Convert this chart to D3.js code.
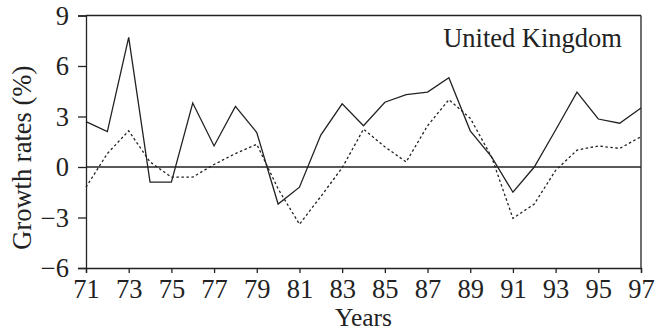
<!DOCTYPE html>
<html>
<head>
<meta charset="utf-8">
<script src="https://cdn.jsdelivr.net/npm/d3@7"></script>
<style>
  body { margin: 0; background: #fff; }
  text { font-family: "Liberation Serif", "DejaVu Serif", serif; fill: #222; }
</style>
</head>
<body>
<svg width="658" height="331"></svg>
<script>
// Data
const years = [71, 72, 73, 74, 75, 76, 77, 78, 79, 80, 81, 82, 83, 84, 85, 86, 87, 88, 89, 90, 91, 92, 93, 94, 95, 96, 97];
const solidSeries = [2.7, 2.1, 7.7, -0.9, -0.9, 3.8, 1.25, 3.6, 2.05, -2.2, -1.2, 1.9, 3.75, 2.45, 3.85, 4.3, 4.45, 5.3, 2.15, 0.6, -1.5, 0.0, 2.2, 4.45, 2.85, 2.6, 3.5];
const dashedSeries = [-1.2, 0.8, 2.15, 0.3, -0.6, -0.6, 0.15, 0.8, 1.35, -1.3, -3.4, -1.75, -0.05, 2.25, 1.2, 0.3, 2.45, 4.0, 2.9, 0.6, -3.05, -2.2, -0.2, 1.0, 1.25, 1.1, 1.8];
const xTicks = [71, 73, 75, 77, 79, 81, 83, 85, 87, 89, 91, 93, 95, 97];
const yTicks = [-6, -3, 0, 3, 6, 9];

const svg = d3.select("svg");
const ink = "#222";
const fontSize = 26.5;

const plotLeft = 86, plotRight = 641, plotTop = 15.5, plotBottom = 268;

const xScale = d3.scaleLinear().domain([71, 97]).range([plotLeft, plotRight]);
const yScale = d3.scaleLinear().domain([-6, 9]).range([plotBottom, plotTop]);

// Axes
const xAxis = svg.append("g")
  .attr("transform", `translate(0,${plotBottom})`)
  .call(d3.axisBottom(xScale).tickValues(xTicks).tickFormat(d3.format("d")).tickSizeOuter(0).tickSize(5).tickPadding(6));

const yAxis = svg.append("g")
  .attr("transform", `translate(${plotLeft},0)`)
  .call(d3.axisLeft(yScale).tickValues(yTicks).tickFormat(d => d < 0 ? "\u2212" + Math.abs(d) : d).tickSizeOuter(0).tickSize(8).tickPadding(9));

[xAxis, yAxis].forEach(g => {
  g.selectAll("path, line").attr("stroke", ink).attr("stroke-width", 1.3);
  g.selectAll("text").attr("font-size", fontSize).attr("fill", ink);
});
yAxis.selectAll("text").attr("dy", "0.33em");

// Box: top and right edges
svg.append("line").attr("x1", plotLeft).attr("x2", plotRight).attr("y1", plotTop).attr("y2", plotTop)
  .attr("stroke", ink).attr("stroke-width", 1.3);
svg.append("line").attr("x1", plotRight).attr("x2", plotRight).attr("y1", plotTop).attr("y2", plotBottom)
  .attr("stroke", ink).attr("stroke-width", 1.3);

// Zero line
svg.append("line").attr("x1", plotLeft).attr("x2", plotRight).attr("y1", yScale(0)).attr("y2", yScale(0))
  .attr("stroke", ink).attr("stroke-width", 1.3);

// Lines
const line = d3.line()
  .x((d, i) => xScale(years[i]))
  .y(d => yScale(d));

svg.append("path")
  .datum(dashedSeries)
  .attr("fill", "none")
  .attr("stroke", ink)
  .attr("stroke-width", 1.3)
  .attr("stroke-dasharray", "2.5,2.5")
  .attr("d", line);

svg.append("path")
  .datum(solidSeries)
  .attr("fill", "none")
  .attr("stroke", ink)
  .attr("stroke-width", 1.3)
  .attr("d", line);

// Labels
svg.append("text")
  .attr("x", 622).attr("y", 47)
  .attr("text-anchor", "end")
  .attr("font-size", fontSize)
  .text("United Kingdom");

svg.append("text")
  .attr("x", (plotLeft + plotRight) / 2).attr("y", 326)
  .attr("text-anchor", "middle")
  .attr("font-size", 25.5)
  .text("Years");

svg.append("text")
  .attr("transform", `translate(31,${(plotTop + plotBottom) / 2 + 16}) rotate(-90)`)
  .attr("text-anchor", "middle")
  .attr("font-size", fontSize)
  .text("Growth rates (%)");
</script>
</body>
</html>
